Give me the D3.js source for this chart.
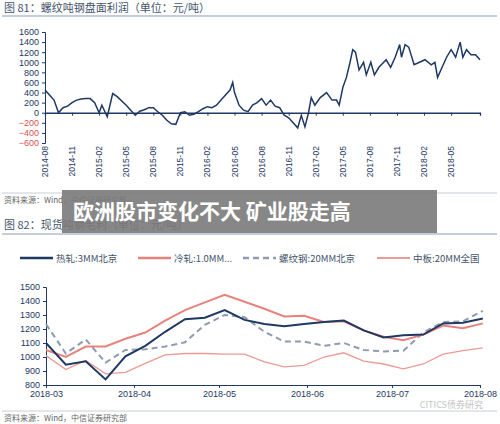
<!DOCTYPE html>
<html><head><meta charset="utf-8">
<script src="https://cdn.jsdelivr.net/npm/d3@7"></script>
<style>body{margin:0;background:#fff;font-family:"Noto Sans CJK SC","Noto Sans",sans-serif}</style>
</head><body><div id="chart"></div>
<script>
// chart 81: months after 2014-08 and profit
var topMonths = [0,0.5,1,1.5,2,2.5,3,3.5,4,4.5,5,5.5,6,6.3,6.9,7.5,8,9,9.5,10,10.5,11,11.5,12,12.5,13,13.5,14,14.5,15,15.5,16,16.5,17,17.5,18,18.5,19,19.5,20,20.5,20.8,21,21.5,22,22.5,23,23.5,24,24.5,25,25.5,26,26.5,27,27.5,28,28.4,28.8,29.2,29.5,29.9,30.5,31.2,31.8,32.3,32.6,33,33.4,33.8,34.1,34.4,34.8,35.3,35.6,36.1,36.5,37,37.8,38.3,38.8,39.3,39.5,39.9,40.3,40.9,41.5,42.1,42.8,43.2,43.5,44,44.5,45,45.5,46,46.3,46.7,47.2,47.7,48.2];
var topValues = [450,350,250,0,100,130,200,250,270,280,280,200,0,150,-80,380,320,150,50,-50,30,60,100,100,20,-50,-150,-220,-230,0,20,-50,-30,20,80,120,100,150,250,350,450,600,400,150,50,20,150,200,280,150,250,130,100,-50,-100,-200,-300,-50,-280,0,300,150,300,400,250,250,150,500,700,1000,1250,1200,850,1000,750,1000,750,900,1050,900,1100,1350,1100,1350,1300,950,1000,1050,950,1000,700,900,1100,1250,1100,1400,1100,1250,1150,1150,1050];
var topTickMonths = d3.range(0, 46, 3);
var topTickLabels = ['2014-08','2014-11','2015-02','2015-05','2015-08','2015-11','2016-02','2016-05','2016-08','2016-11','2017-02','2017-05','2017-08','2017-11','2018-02','2018-05'];
var topYTicks = [1600,1400,1200,1000,800,600,400,200,0,-200,-400,-600];

// chart 82: weekly gross profit from 2018-03-01
var weeks = d3.range(23).map(function(i){ return new Date(2018, 2, 1 + i*7); });
var hotRolled = [1100,945,970,840,1005,1080,1180,1270,1280,1335,1265,1235,1220,1235,1250,1260,1190,1140,1155,1160,1240,1245,1275];
var coldRolled = [1050,1000,1075,1075,1130,1175,1260,1335,1390,1445,1395,1345,1290,1295,1250,1255,1190,1145,1120,1160,1225,1205,1240];
var rebar = [1235,1025,1125,960,1050,1055,1075,1105,1230,1300,1285,1180,1110,1110,1080,1100,1050,1040,1045,1175,1250,1255,1330];
var plate = [1010,910,975,880,890,955,1015,1025,1025,1020,1020,965,930,940,1000,1030,970,950,915,950,1020,1045,1065];
var seriesNames = ['热轧:3MM北京','冷轧:1.0MM...','螺纹钢:20MM北京','中板:20MM全国'];
var bottomTicks = [new Date(2018,2,1),new Date(2018,3,1),new Date(2018,4,1),new Date(2018,5,1),new Date(2018,6,1),new Date(2018,7,1)];

var navy = '#1f3864', txt = '#44546a';
var svg = d3.select('#chart').append('svg').attr('width', 500).attr('height', 424);

// titles & rules
svg.append('text').attr('x', 4).attr('y', 12).attr('font-size', 11).attr('fill', txt).text('图 81：螺纹吨钢盘面利润（单位：元/吨）');
svg.append('line').attr('x1', 2).attr('x2', 497).attr('y1', 16).attr('y2', 16).attr('stroke', '#8a9bb5');
svg.append('line').attr('x1', 2).attr('x2', 497).attr('y1', 193).attr('y2', 193).attr('stroke', '#c8ced8');
svg.append('text').attr('x', 4).attr('y', 203).attr('font-size', 8).attr('fill', '#666').text('资料来源：Wind，中信证券研究部');

// top chart
var x1 = d3.scaleLinear().domain([0, 48.2]).range([45, 480]);
var y1 = d3.scaleLinear().domain([-600, 1600]).range([143, 32]);
svg.append('g').attr('transform', 'translate(45,0)')
  .call(d3.axisLeft(y1).tickValues(topYTicks).tickFormat(d3.format('d')).tickSize(3))
  .call(function(g){
    g.select('.domain').attr('stroke', navy);
    g.selectAll('line').attr('stroke', navy);
    g.selectAll('text').attr('font-size', 9).attr('font-family', 'Liberation Sans, sans-serif')
      .attr('fill', function(d){ return d < 0 ? '#d9534f' : navy; });
  });
svg.append('g').attr('transform', 'translate(0,' + y1(0) + ')')
  .call(d3.axisBottom(x1).tickValues(topTickMonths).tickFormat('').tickSize(3))
  .call(function(g){ g.select('.domain').attr('stroke', navy).attr('stroke-width', 1.3); g.selectAll('line').attr('stroke', navy); });
svg.append('g').selectAll('text').data(topTickMonths).enter().append('text')
  .attr('transform', function(d){ return 'translate(' + (x1(d) + 3) + ',146) rotate(-90)'; })
  .attr('text-anchor', 'end').attr('font-size', 8.5).attr('fill', navy)
  .attr('font-family', 'Liberation Sans, sans-serif')
  .text(function(d, i){ return topTickLabels[i]; });
svg.append('path').datum(topMonths)
  .attr('d', d3.line().x(function(d){ return x1(d); }).y(function(d, i){ return y1(topValues[i]); }))
  .attr('fill', 'none').attr('stroke', navy).attr('stroke-width', 1.5);

// second chart
svg.append('text').attr('x', 4).attr('y', 229).attr('font-size', 11).attr('fill', txt).text('图 82：现货吨钢毛利（单位：元/吨）');
svg.append('line').attr('x1', 2).attr('x2', 497).attr('y1', 234).attr('y2', 234).attr('stroke', '#8a9bb5');

var x2 = d3.scaleTime().domain([bottomTicks[0], bottomTicks[5]]).range([46, 480]);
var y2 = d3.scaleLinear().domain([800, 1500]).range([385, 287]);
svg.append('g').attr('transform', 'translate(46,0)')
  .call(d3.axisLeft(y2).tickValues(d3.range(800, 1501, 100)).tickFormat(d3.format('d')).tickSize(3))
  .call(function(g){
    g.select('.domain').attr('stroke', navy);
    g.selectAll('line').attr('stroke', navy);
    g.selectAll('text').attr('font-size', 9).attr('fill', navy).attr('font-family', 'Liberation Sans, sans-serif');
  });
svg.append('g').attr('transform', 'translate(0,385)')
  .call(d3.axisBottom(x2).tickValues(bottomTicks).tickFormat(d3.timeFormat('%Y-%m')).tickSize(3))
  .call(function(g){
    g.select('.domain').attr('stroke', navy);
    g.selectAll('line').attr('stroke', navy);
    g.selectAll('text').attr('font-size', 9).attr('fill', navy).attr('font-family', 'Liberation Sans, sans-serif');
  });

var styles = [
  {data: hotRolled, color: navy, w: 2, dash: null},
  {data: coldRolled, color: '#e8837c', w: 2, dash: null},
  {data: rebar, color: '#8e9bb0', w: 2, dash: '6,4'},
  {data: plate, color: '#ec9a94', w: 1.3, dash: null}
];
var line2 = d3.line().x(function(d){ return x2(d[0]); }).y(function(d){ return y2(d[1]); });
styles.slice().reverse().forEach(function(s){
  svg.append('path').datum(d3.zip(weeks, s.data)).attr('d', line2)
    .attr('fill', 'none').attr('stroke', s.color).attr('stroke-width', s.w)
    .attr('stroke-dasharray', s.dash);
});

// legend
var legX = [20, 138, 243, 377];
var leg = svg.append('g').selectAll('g').data(styles).enter().append('g')
  .attr('transform', function(d, i){ return 'translate(' + legX[i] + ',258)'; });
leg.append('line').attr('x1', 0).attr('x2', 33).attr('y1', 0).attr('y2', 0)
  .attr('stroke', function(d){ return d.color; }).attr('stroke-width', function(d){ return d.w + 0.5; })
  .attr('stroke-dasharray', function(d){ return d.dash; });
leg.append('text').attr('x', 36).attr('y', 4).attr('font-size', 9.5).attr('fill', txt)
  .text(function(d, i){ return seriesNames[i]; });

// watermark and source
svg.append('text').attr('x', 483).attr('y', 408).attr('text-anchor', 'end').attr('font-size', 9).attr('fill', '#c4c4c4').text('CITICS债券研究');
svg.append('line').attr('x1', 2).attr('x2', 497).attr('y1', 411).attr('y2', 411).attr('stroke', '#c8ced8');
svg.append('text').attr('x', 4).attr('y', 421).attr('font-size', 8).attr('fill', '#666').text('资料来源：Wind，中信证券研究部');

// banner overlay
svg.append('rect').attr('x', 62).attr('y', 190).attr('width', 375).attr('height', 43).attr('fill', '#7a7a7a').attr('opacity', 0.9);
svg.append('text').attr('x', 73).attr('y', 219).attr('font-size', 21).attr('font-weight', 'bold').attr('fill', '#fff').text('欧洲股市变化不大 矿业股走高');
</script></body></html>
